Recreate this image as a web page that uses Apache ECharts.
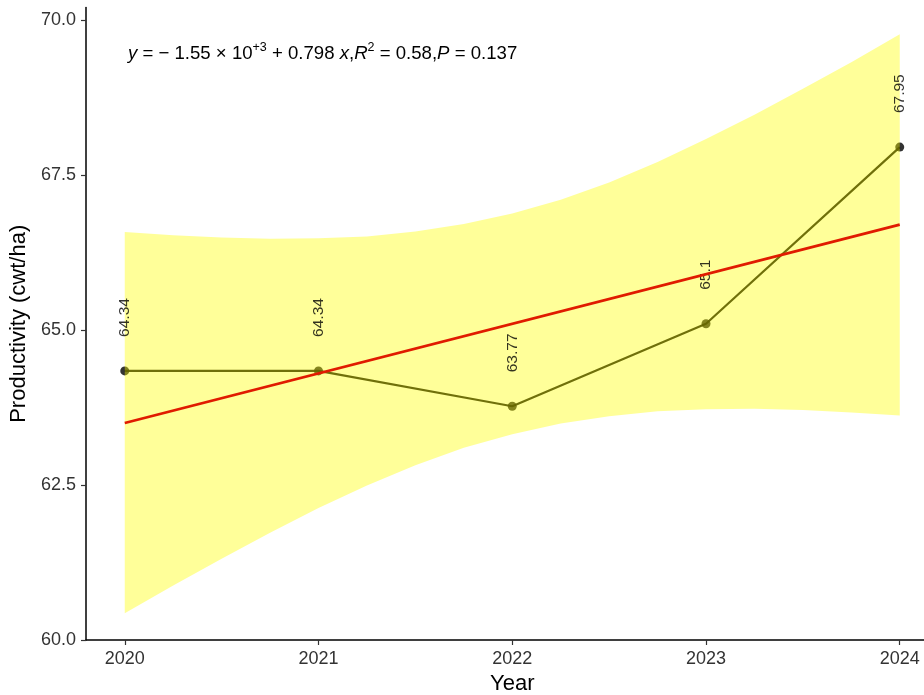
<!DOCTYPE html>
<html>
<head>
<meta charset="utf-8">
<script src="https://cdn.jsdelivr.net/npm/echarts@6/dist/echarts.min.js"></script>
<style>html,body{margin:0;padding:0;background:#fff}#chart{width:924px;height:695px}</style>
</head>
<body>
<div id="chart"></div>
<script>
// Observed data
var years = [2020, 2021, 2022, 2023, 2024];
var productivity = [64.34, 64.34, 63.77, 65.1, 67.95];
var pointLabels = ['64.34', '64.34', '63.77', '65.1', '67.95'];
// Fitted regression line endpoints
var fitX = [2020, 2024];
var fitY = [63.50, 66.70];
// Confidence band
var bandX = [2020, 2020.25, 2020.5, 2020.75, 2021, 2021.25, 2021.5, 2021.75, 2022, 2022.25, 2022.5, 2022.75, 2023, 2023.25, 2023.5, 2023.75, 2024];
var bandLower = [60.43, 60.88, 61.31, 61.73, 62.13, 62.49, 62.82, 63.10, 63.32, 63.49, 63.61, 63.69, 63.72, 63.73, 63.71, 63.67, 63.62];
var bandUpper = [66.58, 66.53, 66.49, 66.47, 66.48, 66.51, 66.59, 66.71, 66.88, 67.10, 67.38, 67.71, 68.08, 68.47, 68.89, 69.32, 69.77];
// Ticks
var xTicks = [2020, 2021, 2022, 2023, 2024];
var yTicks = [60, 62.5, 65, 67.5, 70];

var chart = echarts.init(document.getElementById('chart'), null, {renderer: 'canvas'});
var font = 'Liberation Sans, Arial, Helvetica, sans-serif';

var obsData = years.map(function (y, i) { return [y, productivity[i]]; });
var fitData = fitX.map(function (x, i) { return [x, fitY[i]]; });

var option = {
  animation: false,
  backgroundColor: '#ffffff',
  textStyle: {fontFamily: font},
  grid: {left: 86, top: 7.6, width: 852.5, height: 632.4, containLabel: false, outerBoundsMode: 'none'},
  xAxis: {
    type: 'value', min: 2019.8, max: 2024.2,
    name: 'Year', nameLocation: 'middle', nameGap: 30,
    nameTextStyle: {fontSize: 22, color: '#000', fontFamily: font},
    axisLine: {show: true, onZero: false, lineStyle: {color: '#000', width: 1.5}},
    axisTick: {show: true, length: 5, customValues: xTicks, lineStyle: {color: '#333', width: 1.2}},
    axisLabel: {customValues: xTicks, fontSize: 18, color: '#333', margin: 10, fontFamily: font,
      formatter: function (v) { return String(v); }},
    splitLine: {show: false}
  },
  yAxis: {
    type: 'value', min: 60, max: 70.2,
    name: 'Productivity (cwt/ha)', nameLocation: 'middle', nameGap: 52, nameRotate: 90,
    nameTextStyle: {fontSize: 22, color: '#000', fontFamily: font},
    axisLine: {show: true, onZero: false, lineStyle: {color: '#000', width: 1.5}},
    axisTick: {show: true, length: 5, customValues: yTicks, lineStyle: {color: '#333', width: 1.2}},
    axisLabel: {customValues: yTicks, fontSize: 18, color: '#333', margin: 10, fontFamily: font,
      formatter: function (v) { return Number(v).toFixed(1); }},
    splitLine: {show: false}
  },
  graphic: [{
    type: 'text', left: 128, top: 41, z: 100,
    style: {
      text: '{i|y} = − 1.55 × 10{s|+3} + 0.798 {i|x},{i|R}{s|2} = 0.58,{i|P} = 0.137',
      fontSize: 18.6, fontFamily: font, fill: '#000', lineHeight: 25,
      rich: {
        i: {fontStyle: 'italic', fontSize: 18.6, fontFamily: font, lineHeight: 25},
        s: {fontSize: 12.5, fontFamily: font, lineHeight: 25, verticalAlign: 'top'}
      }
    }
  }],
  series: [
    {
      name: 'obs-line', type: 'line', data: obsData, z: 2,
      showSymbol: false, symbol: 'none',
      lineStyle: {color: '#111', width: 2.2}
    },
    {
      name: 'obs-points', type: 'scatter', data: obsData, z: 3,
      symbol: 'circle', symbolSize: 9,
      itemStyle: {color: '#000'}
    },
    {
      name: 'band', type: 'custom', z: 5, silent: true,
      data: [0],
      renderItem: function (params, api) {
        var pts = [];
        for (var i = 0; i < bandX.length; i++) pts.push(api.coord([bandX[i], bandUpper[i]]));
        for (var j = bandX.length - 1; j >= 0; j--) pts.push(api.coord([bandX[j], bandLower[j]]));
        return {type: 'polygon', shape: {points: pts, smooth: 0}, style: {fill: 'rgba(255,255,0,0.4)', stroke: null}};
      }
    },
    {
      name: 'obs-labels', type: 'scatter', data: obsData, z: 6,
      symbol: 'circle', symbolSize: 8, silent: true,
      itemStyle: {color: 'rgba(0,0,0,0)'},
      label: {
        show: true, position: 'top', distance: 30, rotate: 90,
        align: 'left', verticalAlign: 'middle',
        fontSize: 15.5, color: '#000', fontFamily: font,
        formatter: function (p) { return pointLabels[p.dataIndex]; }
      }
    },
    {
      name: 'fit', type: 'line', data: fitData, z: 7,
      showSymbol: false, symbol: 'none',
      lineStyle: {color: '#e01b00', width: 2.8}
    }
  ]
};
chart.setOption(option);
</script>
</body>
</html>
